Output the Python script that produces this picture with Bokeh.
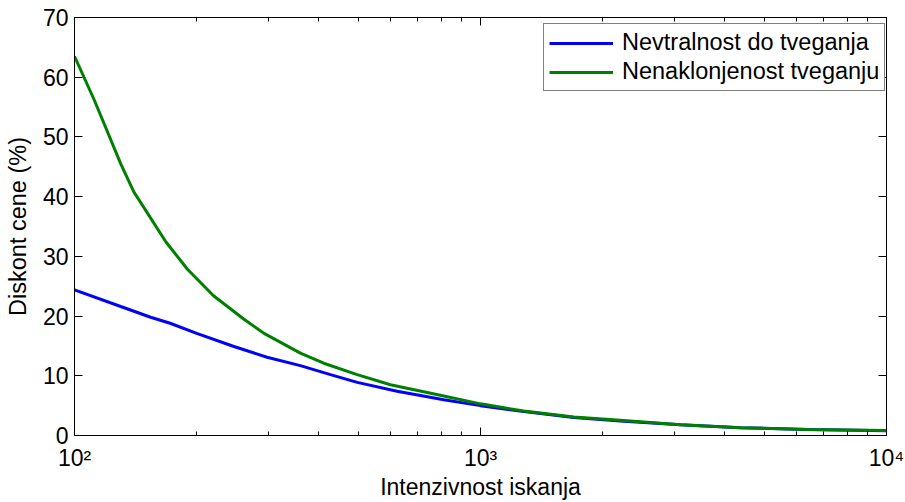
from bokeh.plotting import figure
from bokeh.models import (LogAxis, LinearAxis, FixedTicker, Legend, LegendItem,
                          Range1d)
from bokeh.embed import file_html
from bokeh.resources import INLINE

# ---- data ----
x_green = [100, 112, 130, 140, 168, 190, 220, 261, 293, 360, 411, 497, 600,
           812, 1000, 1278, 1697, 2254, 3109, 4369, 6378, 10000]
y_green = [63.5, 56.1, 45.5, 40.8, 32.4, 27.8, 23.4, 19.5, 17.1, 13.8, 12.1,
           10.2, 8.5, 6.6, 5.3, 4.1, 3.1, 2.5, 1.8, 1.3, 1.0, 0.83]

x_blue = [100, 130, 154, 172, 200, 247, 298, 360, 427, 497, 623, 812, 1000,
          1278, 1697, 2254, 3109, 4369, 6378, 10000]
y_blue = [24.4, 21.6, 19.8, 18.8, 17.1, 14.9, 13.1, 11.7, 10.2, 8.9, 7.4, 6.0,
          5.0, 4.0, 3.0, 2.4, 1.8, 1.3, 1.0, 0.8]

x_major = [100, 1000, 10000]
x_minor = [200, 300, 400, 500, 600, 700, 800, 900,
           2000, 3000, 4000, 5000, 6000, 7000, 8000, 9000]
x_labels = {100: "10\u00b2", 1000: "10\u00b3", 10000: "10\u2074"}
y_ticks = [0, 10, 20, 30, 40, 50, 60, 70]

x_title = "Intenzivnost iskanja"
y_title = "Diskont cene (%)"
series_names = ["Nevtralnost do tveganja", "Nenaklonjenost tveganju"]
series_colors = ["#0000ff", "#008000"]

FONT = "Liberation Sans"
FS = "23px"

p = figure(width=905, height=502, x_axis_type="log",
           x_range=Range1d(100, 10000), y_range=Range1d(0, 70),
           output_backend="svg", toolbar_location=None,
           min_border_left=74, min_border_right=19, min_border_top=17,
           min_border_bottom=66)
p.xgrid.visible = False
p.ygrid.visible = False
p.outline_line_color = "black"
p.outline_line_width = 1
p.background_fill_color = "white"
p.border_fill_color = "white"

xt = FixedTicker(ticks=x_major, minor_ticks=x_minor)
yt = FixedTicker(ticks=y_ticks)

def style(ax, labels=True):
    ax.axis_line_color = "black"
    ax.axis_line_width = 1
    ax.major_tick_in = 8
    ax.major_tick_out = 0
    ax.minor_tick_in = 4
    ax.minor_tick_out = 0
    ax.major_tick_line_color = "black"
    ax.minor_tick_line_color = "black"
    if labels:
        ax.major_label_text_font = FONT
        ax.major_label_text_font_size = FS
        ax.major_label_text_color = "black"
        ax.major_label_text_line_height = 1.0
        ax.axis_label_text_font = FONT
        ax.axis_label_text_font_size = FS
        ax.axis_label_text_font_style = "normal"
        ax.axis_label_text_color = "black"
        ax.axis_label_text_line_height = 1.0
    else:
        ax.major_label_text_font_size = "1px"
        ax.major_label_text_alpha = 0
        ax.major_label_standoff = 0

xa = p.xaxis[0]
xa.ticker = xt
xa.major_label_overrides = x_labels
xa.axis_label = x_title
style(xa)
xa.major_label_standoff = 9
xa.axis_label_standoff = 0

ya = p.yaxis[0]
ya.ticker = yt
ya.axis_label = y_title
style(ya)
ya.axis_label_text_font_size = "23.5px"
ya.minor_tick_in = 0
ya.major_label_standoff = 6
ya.axis_label_standoff = 9

top = LogAxis(ticker=FixedTicker(ticks=x_major, minor_ticks=x_minor))
style(top, labels=False)
p.add_layout(top, "above")
right = LinearAxis(ticker=FixedTicker(ticks=y_ticks))
style(right, labels=False)
right.minor_tick_in = 0
p.add_layout(right, "right")

r_blue = p.line(x_blue, y_blue, line_color=series_colors[0], line_width=3)
r_green = p.line(x_green, y_green, line_color=series_colors[1], line_width=3)

legend = Legend(items=[LegendItem(label=series_names[0], renderers=[r_blue]),
                       LegendItem(label=series_names[1], renderers=[r_green])],
                location=(469, 344))
legend.label_text_font = FONT
legend.label_text_font_size = "23.5px"
legend.label_text_color = "black"
legend.border_line_color = "black"
legend.border_line_width = 1
legend.background_fill_alpha = 1
legend.padding = 5
legend.spacing = 2
legend.margin = 0
legend.glyph_width = 64
legend.label_standoff = 9
p.add_layout(legend)

open("out.html", "w").write(file_html(p, INLINE))
